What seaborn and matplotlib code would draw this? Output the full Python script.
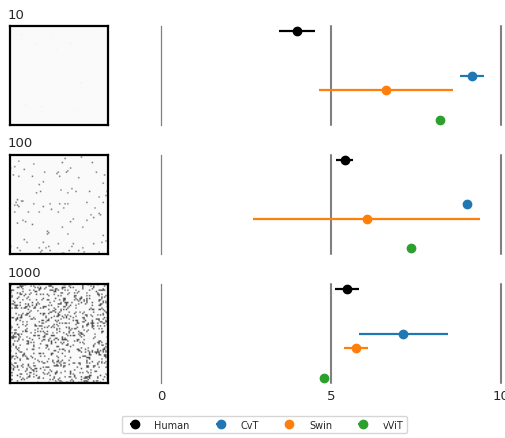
import numpy as np
import matplotlib
matplotlib.use("Agg")
import matplotlib.pyplot as plt
import seaborn as sns

# Number of dots in each stimulus condition
conditions = ["10", "100", "1000"]
dot_counts = [10, 100, 1000]

models = ["Human", "CvT", "Swin", "vViT"]

# Estimated number (mean) per condition and its error half-width
human_mean = [4.01, 5.40, 5.46]
human_err = [0.53, 0.24, 0.35]
cvt_mean = [9.14, 9.00, 7.13]
cvt_err = [0.35, 0.0, 1.31]
swin_mean = [6.63, 6.05, 5.74]
swin_err = [1.97, 3.33, 0.36]
vvit_mean = [8.21, 7.35, 4.80]
vvit_err = [0.0, 0.0, 0.0]

x_ticks = [0, 5, 10]

means = {"Human": human_mean, "CvT": cvt_mean, "Swin": swin_mean, "vViT": vvit_mean}
errs = {"Human": human_err, "CvT": cvt_err, "Swin": swin_err, "vViT": vvit_err}

sns.set_style("white")
plt.rcParams["font.family"] = ["DejaVu Sans"]

tab = sns.color_palette("tab10")
colors = {"Human": "black", "CvT": tab[0], "Swin": tab[1], "vViT": tab[2]}
# vertical slot of each model inside a row
slots = {"Human": 0, "CvT": 3, "Swin": 4, "vViT": 6}


def stimulus(n, size=72, shade=0.4, seed=0):
    """Light canvas with n scattered dark dots (the dot-count stimulus)."""
    gen = np.random.default_rng(seed)
    img = np.full((size, size), 0.98)
    ys = gen.integers(0, size, n)
    xs = gen.integers(0, size, n)
    img[ys, xs] = shade
    return img


W, H = 506, 439
fig = plt.figure(figsize=(W / 100, H / 100), dpi=100)

row_tops = [27, 155.5, 285]
row_h = 99
shades = [0.94, 0.4, 0.3]

for r, (cond, n) in enumerate(zip(conditions, dot_counts)):
    top = row_tops[r]
    bottom = 1 - (top + row_h) / H
    h = row_h / H

    # stimulus thumbnail
    axi = fig.add_axes([10 / W, bottom, 98 / W, h])
    axi.imshow(stimulus(n, shade=shades[r], seed=r + 3), cmap="gray", vmin=0, vmax=1,
               interpolation="bilinear", aspect="auto")
    axi.set_xticks([])
    axi.set_yticks([])
    for s in axi.spines.values():
        s.set_visible(True)
        s.set_color("black")
        s.set_linewidth(1.6)
    axi.set_title(cond, loc="left", fontsize=9.5, pad=6, x=-0.02)

    # estimates
    ax = fig.add_axes([161 / W, bottom, 340 / W, h])
    ax.set_xlim(0, 10)
    ax.set_ylim(6.34, -0.34)
    for v in x_ticks[1:]:
        ax.axvline(v, color="gray", lw=1.5, zorder=1, clip_on=False)
    for m in models:
        ax.errorbar(means[m][r], slots[m], xerr=errs[m][r], fmt="o",
                    color=colors[m], ms=6, elinewidth=1.6, capsize=0,
                    label=m, zorder=3)
    sns.despine(ax=ax, top=True, right=True, bottom=True, left=False)
    ax.spines["left"].set_color("gray")
    ax.spines["left"].set_linewidth(0.9)
    ax.set_yticks([])
    ax.set_xticks(x_ticks)
    ax.tick_params(axis="x", length=0, pad=4, labelsize=9.5)
    if r < len(conditions) - 1:
        ax.set_xticklabels([])

handles, labels = ax.get_legend_handles_labels()
fig.legend(handles, labels, loc="lower center", bbox_to_anchor=(0.522, 0.0),
           ncol=4, fontsize=7, columnspacing=2.2, handletextpad=1.0,
           handlelength=2.0, frameon=True, borderpad=0.35)

fig.savefig("out.png", dpi=100)
